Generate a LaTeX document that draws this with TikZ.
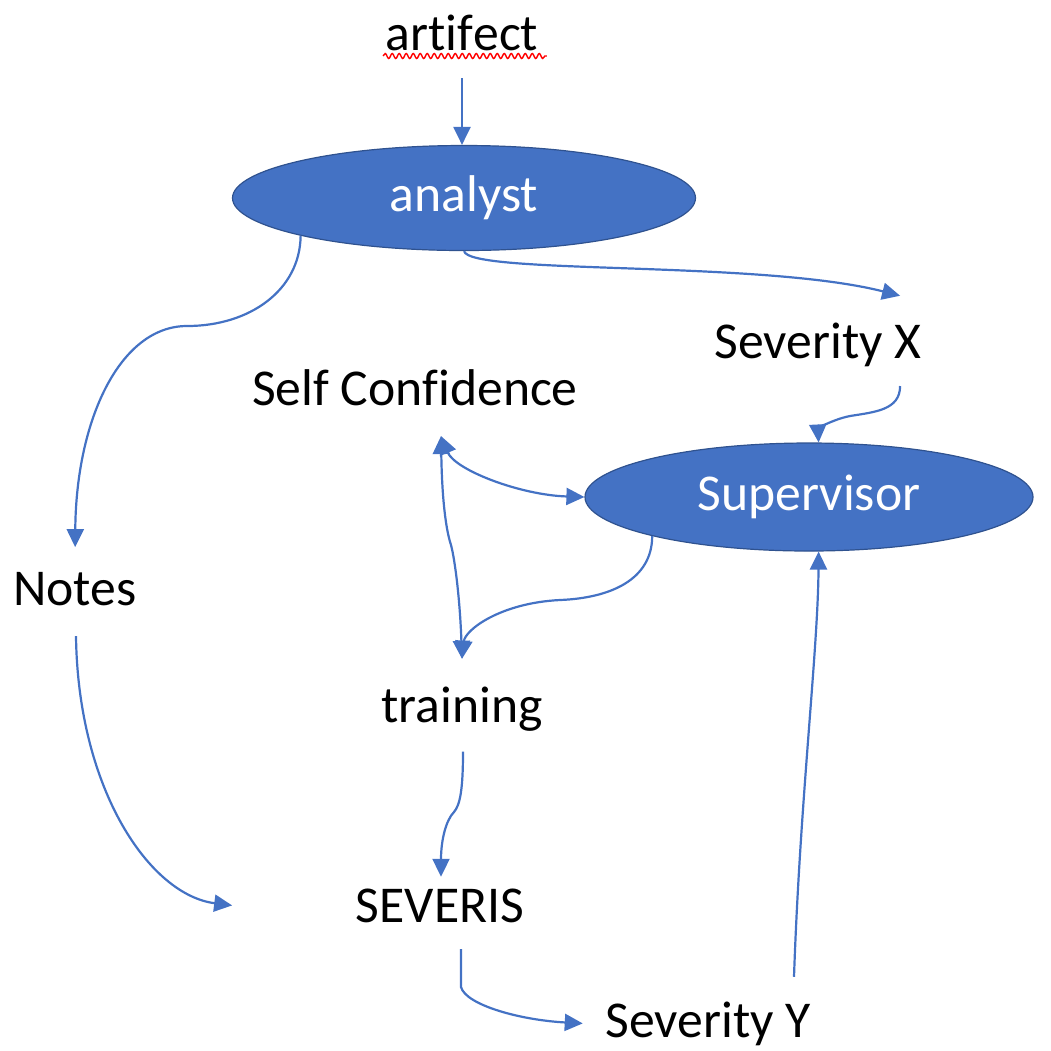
\documentclass[tikz,border=0pt]{standalone}
\usepackage{fontspec}
\setmainfont{Carlito}[Ligatures={NoCommon}, Contextuals={NoAlternate}]
\usetikzlibrary{arrows.meta,calc,shapes.geometric,decorations.pathmorphing}
\definecolor{officeblue}{HTML}{4472C4}
\definecolor{officeedge}{HTML}{2F528F}
\tikzset{
  lbl/.style={inner sep=0pt, anchor=base},
  actor/.style={ellipse, fill=officeblue, draw=officeedge, line width=0.012cm, inner sep=0pt, text=white},
  conn/.style={officeblue, line width=0.022cm, -{Triangle[length=0.18cm,width=0.17cm]}},
  biconn/.style={officeblue, line width=0.022cm, {Triangle[length=0.18cm,width=0.17cm]}-{Triangle[length=0.18cm,width=0.17cm]}},
}
\begin{document}
\begin{tikzpicture}
                        \useasboundingbox (0,0) rectangle (10.510000,-10.500000);
                        {\fontsize{14.7}{17.6}\selectfont
                        
                        % Marking label artifect
                        \node[lbl] (art) at (4.620000,-0.500000) {art\kern0pt i\kern0pt f\kern0pt ect};%
                        \draw[red, line width=0.014cm, decorate, decoration={snake, segment length=0.07cm, amplitude=0.025cm}] ($(art.base west)+(-0.020000,-0.060000)$) -- ($(art.base east)+(0.080000,-0.060000)$);%
                        
                        % Marking ellipse analyst
                        \node[actor, minimum width=4.630000cm, minimum height=1.050000cm] (analyst) at (4.640000,-1.980000) {analyst};%
                        
                        % Marking ellipse Supervisor
                        \node[actor, minimum width=4.480000cm, minimum height=1.080000cm] (supervisor) at (8.090000,-4.970000) {Supervisor};%
                        
                        % Marking labels
                        \node[lbl] (sevx) at (8.180000,-3.580000) {Severity X};%
                        \node[lbl] (selfc) at (4.150000,-4.050000) {Self Conf\kern0pt idence};%
                        \node[lbl] (notes) at (0.750000,-6.050000) {Notes};%
                        \node[lbl] (training) at (4.620000,-7.220000) {training};%
                        \node[lbl] (severis) at (4.400000,-9.220000) {SEVERIS};%
                        \node[lbl] (sevy) at (7.080000,-10.370000) {Severity Y};%
                        
                        % Drawing arrow artifect to analyst
                        \draw[conn, shorten <=0.270000cm] (art.south) -- (art.south |- analyst.north);%
                        
                        % Drawing arrow analyst to Notes
                        \draw[conn, shorten >=0.240000cm] (analyst.193) .. controls (3.000000,-2.900000) and (2.500000,-3.260000) .. (1.870000,-3.260000) .. controls (1.200000,-3.260000) and (0.760000,-4.200000) .. (notes.north);%
                        
                        % Drawing arrow analyst to Severity X
                        \draw[conn] (analyst.south) .. controls (4.700000,-2.750000) and (7.600000,-2.600000) .. ($(sevx.north east)+(-0.220000,0.260000)$);%
                        
                        % Drawing arrow Severity X to Supervisor
                        \draw[conn] ($(sevx.south east)+(-0.220000,-0.190000)$) .. controls (9.000000,-4.100000) and (8.750000,-4.120000) .. (8.500000,-4.160000) .. controls (8.300000,-4.200000) and (8.180000,-4.300000) .. (supervisor.80);%
                        
                        % Drawing arrow Self Confidence to Supervisor
                        \draw[biconn] ($(selfc.south)+(0.260000,-0.300000)$) .. controls (4.550000,-4.700000) and (5.200000,-4.950000) .. (supervisor.west);%
                        
                        % Drawing arrow Self Confidence to training
                        \draw[biconn] ($(selfc.south)+(0.260000,-0.300000)$) .. controls (4.420000,-5.000000) and (4.460000,-5.300000) .. (4.510000,-5.450000) .. controls (4.550000,-5.600000) and (4.600000,-6.000000) .. ($(training.north)+(0.000000,0.270000)$);%
                        
                        % Drawing arrow Supervisor to training
                        \draw[conn] (supervisor.194) .. controls (6.520000,-5.800000) and (6.100000,-5.980000) .. (5.600000,-6.000000) .. controls (5.000000,-6.030000) and (4.650000,-6.300000) .. ($(training.north)+(0.000000,0.270000)$);%
                        
                        % Drawing arrow training to SEVERIS
                        \draw[conn] ($(training.south)+(0.010000,-0.200000)$) .. controls (4.630000,-7.900000) and (4.600000,-8.050000) .. (4.540000,-8.120000) .. controls (4.460000,-8.200000) and (4.410000,-8.400000) .. ($(severis.north)+(0.010000,0.110000)$);%
                        
                        % Drawing arrow Notes to SEVERIS
                        \draw[conn] ($(notes.south)+(0.010000,-0.300000)$) .. controls (0.780000,-7.900000) and (1.500000,-8.950000) .. ($(severis.west)+(-1.230000,0.000000)$);%
                        
                        % Drawing arrow SEVERIS to Severity Y
                        \draw[conn] ($(severis.south)+(0.210000,-0.260000)$) -- ++(0.000000,-0.380000) .. controls (4.660000,-10.050000) and (5.200000,-10.200000) .. ($(sevy.west)+(-0.220000,0.000000)$);%
                        
                        % Drawing arrow Severity Y to Supervisor
                        \draw[conn] ($(sevy.north)+(0.860000,0.240000)$) .. controls (8.000000,-8.000000) and (8.180000,-6.500000) .. (supervisor.280);%
                        }
                        \end{tikzpicture}
\end{document}
